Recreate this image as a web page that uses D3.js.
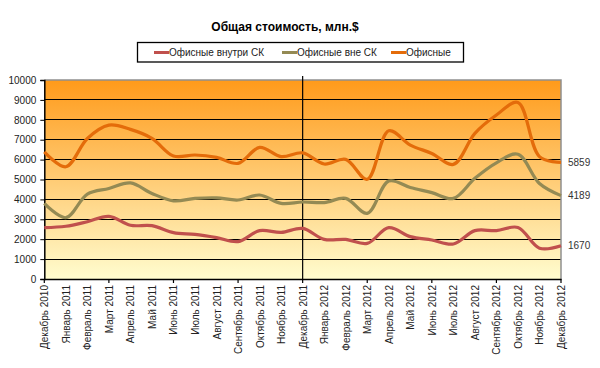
<!DOCTYPE html>
<html><head><meta charset="utf-8">
<script src="https://cdn.jsdelivr.net/npm/d3@7"></script>
<style>body{margin:0;background:#fff}svg{display:block}text{font-family:"Liberation Sans",Arial,sans-serif}</style>
</head><body><svg id="c" width="600" height="368"></svg>
<script>
const months = ["Декабрь 2010","Январь 2011","Февраль 2011","Март 2011","Апрель 2011","Май 2011","Июнь 2011","Июль 2011","Август 2011","Сентябрь 2011","Октябрь 2011","Ноябрь 2011","Декабрь 2011","Январь 2012","Февраль 2012","Март 2012","Апрель 2012","Май 2012","Июнь 2012","Июль 2012","Август 2012","Сентябрь 2012","Октябрь 2012","Ноябрь 2012","Декабрь 2012"];
const inside = [2580,2650,2880,3150,2700,2680,2330,2240,2080,1880,2430,2340,2540,1990,1990,1790,2580,2130,1960,1760,2430,2430,2590,1550,1670];
const outside = [3800,3080,4270,4550,4830,4300,3930,4050,4080,3970,4220,3800,3870,3840,4050,3300,4920,4600,4340,4050,5060,5840,6270,4800,4189];
const offices = [6390,5640,7060,7730,7520,7070,6180,6230,6110,5810,6610,6150,6340,5780,6010,5010,7450,6730,6310,5760,7320,8240,8870,6150,5859];
const seriesNames = ["Офисные внутри СК","Офисные вне СК","Офисные"];
const yTicks = [0,1000,2000,3000,4000,5000,6000,7000,8000,9000,10000];
const title = "Общая стоимость, млн.$";

const colors = ["#C0504D","#948A54","#E46C0A"];
const svg = d3.select("#c");
const L=44.3, R=561, T=80, B=279;
const x = d3.scalePoint().domain(months).range([L,R]);
const y = d3.scaleLinear().domain([0,10000]).range([B,T]);

const defs = svg.append("defs");
const g = defs.append("linearGradient").attr("id","bg").attr("x1",0).attr("y1",0).attr("x2",0).attr("y2",1);
g.append("stop").attr("offset","0%").attr("stop-color","#FF9A1A");
g.append("stop").attr("offset","100%").attr("stop-color","#FFFDCF");
svg.append("rect").attr("x",L).attr("y",T).attr("width",R-L).attr("height",B-T).attr("fill","url(#bg)");

// gridlines
svg.append("g").selectAll("line").data(yTicks.slice(1,-1)).join("line")
  .attr("x1",L).attr("x2",R).attr("y1",d=>y(d)).attr("y2",d=>y(d))
  .attr("stroke","#000").attr("stroke-width",1).attr("shape-rendering","crispEdges");
// border top/right
svg.append("path").attr("d",`M${L},${T}H${R}V${B}`).attr("fill","none").attr("stroke","#909090").attr("stroke-width",1.5);
// vertical separator
svg.append("line").attr("x1",x("Декабрь 2011")).attr("x2",x("Декабрь 2011")).attr("y1",T-4).attr("y2",B)
  .attr("stroke","#000").attr("stroke-width",1.2);

// y axis
const ya = svg.append("g").attr("transform",`translate(${L},0)`)
  .call(d3.axisLeft(y).tickValues(yTicks).tickSize(4).tickPadding(4).tickFormat(d3.format("d")));
ya.selectAll("text").attr("font-size",10).attr("fill","#222");
ya.selectAll("line,path").attr("stroke","#000");
ya.select(".domain").attr("stroke-width",1.5);

// x axis
const xa = svg.append("g").attr("transform",`translate(0,${B})`)
  .call(d3.axisBottom(x).tickSize(0).tickPadding(0));
xa.select(".domain").attr("stroke","#000").attr("stroke-width",1.5);
xa.selectAll(".tick line").remove();
xa.selectAll(".tick text").attr("font-size",10).attr("fill","#222")
  .attr("transform","rotate(-90)").attr("text-anchor","end").attr("dy","0.35em").attr("x",-6).attr("y",0);
svg.append("g").selectAll("line").data(months.filter((d,i)=>i%3===0)).join("line")
  .attr("x1",d=>x(d)).attr("x2",d=>x(d)).attr("y1",B).attr("y2",B+4).attr("stroke","#000").attr("stroke-width",1.2);

// lines
const line = d3.line().x((d,i)=>x(months[i])).y(d=>y(d)).curve(d3.curveCatmullRom.alpha(0.5));
[inside,outside,offices].forEach((s,k)=>{
  svg.append("path").datum(s).attr("d",line).attr("fill","none").attr("stroke",colors[k]).attr("stroke-width",3.2)
    .attr("stroke-linejoin","round");
});
// end labels
[[offices,5859],[outside,4189],[inside,1670]].forEach(([s,v])=>{
  svg.append("text").attr("x",R+7).attr("y",y(s[s.length-1])).attr("dy","0.35em")
    .attr("font-size",10).attr("fill","#333").text(v);
});

// title
svg.append("text").attr("x",285).attr("y",31).attr("text-anchor","middle").attr("font-size",12)
  .attr("font-weight","bold").text(title);

// legend
svg.append("rect").attr("x",137.5).attr("y",42.5).attr("width",326).attr("height",19.5)
  .attr("fill","#fff").attr("stroke","#000").attr("stroke-width",1.3);
const lx = [154,282,391];
seriesNames.forEach((n,k)=>{
  svg.append("line").attr("x1",lx[k]).attr("x2",lx[k]+15).attr("y1",52.5).attr("y2",52.5)
    .attr("stroke",colors[k]).attr("stroke-width",3);
  svg.append("text").attr("x",lx[k]+15).attr("y",52.5).attr("dy","0.35em").attr("font-size",10)
    .attr("fill","#222").text(n);
});
</script></body></html>
